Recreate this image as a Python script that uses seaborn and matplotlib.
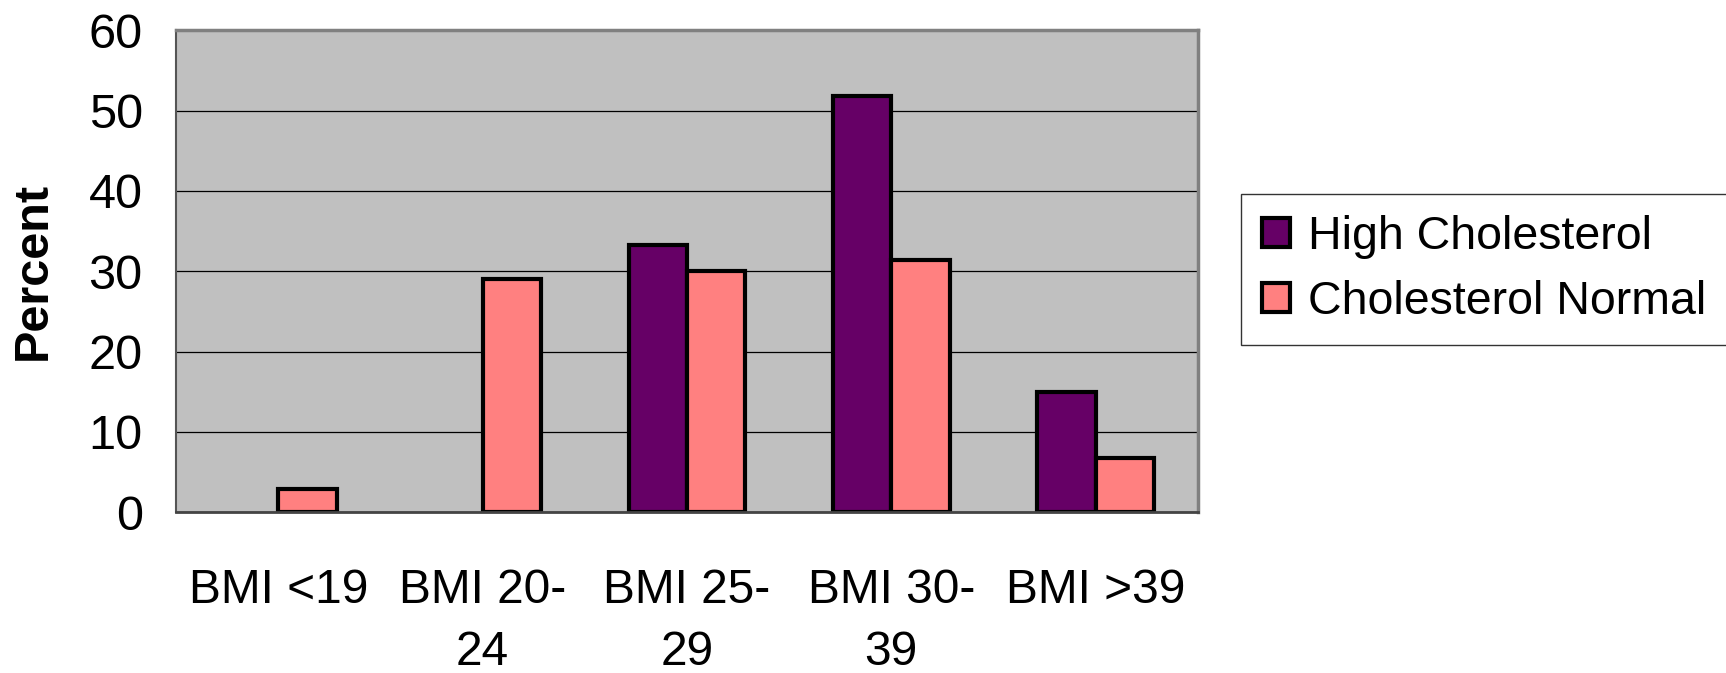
import matplotlib
matplotlib.use("Agg")
import matplotlib.pyplot as plt
import seaborn as sns
import pandas as pd
import numpy as np
from matplotlib.patches import Patch

categories = ["BMI <19", "BMI 20-\n24", "BMI 25-\n29", "BMI 30-\n39", "BMI >39"]
series_names = ["High Cholesterol", "Cholesterol Normal"]
high_chol = [0, 0, 33.3, 51.8, 15.0]
chol_normal = [2.9, 29.0, 30.0, 31.4, 6.7]
y_ticks = [0, 10, 20, 30, 40, 50, 60]
colors = ["#660066", "#FF8080"]

df = pd.DataFrame({
    "cat": categories * 2,
    "series": [series_names[0]] * len(categories) + [series_names[1]] * len(categories),
    "value": high_chol + chol_normal,
})

sns.set_style("white")
plt.rcParams['font.family'] = ['Liberation Sans', 'DejaVu Sans']
plt.rcParams['text.color'] = 'black'
plt.rcParams['xtick.color'] = 'black'
plt.rcParams['ytick.color'] = 'black'
plt.rcParams['axes.labelcolor'] = 'black'

fig = plt.figure(figsize=(17.26, 6.73), dpi=100)
ax = fig.add_axes([0.102, 0.239, 0.592, 0.716])
ax.set_facecolor("#C0C0C0")

sns.barplot(data=df, x="cat", y="value", hue="series", palette=colors,
            width=0.571, edgecolor="black", linewidth=3.0, ax=ax, legend=False,
            saturation=1)

for p in ax.patches:
    if p.get_height() == 0:
        p.set_visible(False)

ax.set_ylim(0, 60)
ax.set_xlim(-0.5, len(categories) - 0.5)
ax.set_yticks(y_ticks)
ax.yaxis.grid(True, color="black", linewidth=0.9)
ax.set_axisbelow(True)

ax.set_xlabel("")
ax.set_ylabel("Percent", fontsize=35, fontweight="bold", labelpad=24)

ax.tick_params(axis="y", labelsize=35, length=15, width=1.2, color="#444444",
               labelcolor="black", pad=9)
ax.tick_params(axis="x", which="major", labelsize=34.5, length=0, pad=40,
               labelcolor="black")
ax.set_xticks(np.arange(-0.5, len(categories), 1.0), minor=True)
ax.tick_params(axis="x", which="minor", length=14, width=1.2, color="#444444")
for lab in ax.get_xticklabels():
    lab.set_linespacing(1.5)
    lab.set_verticalalignment("top")

for side in ["top", "right"]:
    ax.spines[side].set_color("#808080")
    ax.spines[side].set_linewidth(2.5)
ax.spines["left"].set_color("#555555")
ax.spines["left"].set_linewidth(1.5)
ax.spines["bottom"].set_color("#444444")
ax.spines["bottom"].set_linewidth(2.0)

handles = [Patch(facecolor=c, edgecolor="black", linewidth=3.0) for c in colors]
leg = fig.legend(handles, series_names, loc="upper left",
                 bbox_to_anchor=(0.719, 0.712), fontsize=33.5,
                 frameon=True, fancybox=False, edgecolor="black",
                 handlelength=0.6, handleheight=0.6, handletextpad=0.4,
                 labelspacing=0.45, borderpad=0.45, borderaxespad=0)
leg.get_frame().set_linewidth(1.0)

fig.savefig("out.png", dpi=100)
